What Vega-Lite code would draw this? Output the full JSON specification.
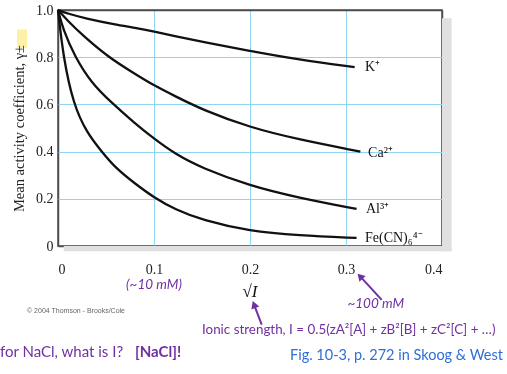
{
  "$schema": "https://vega.github.io/schema/vega-lite/v6.json",
  "width": 384,
  "height": 236,
  "autosize": {"type": "none"},
  "padding": {"left": 58, "top": 10, "right": 65, "bottom": 128},
  "background": "white",
  "config": {
    "view": {"stroke": "#4d4d4d", "strokeWidth": 1.5},
    "axis": {"gridOpacity": 1, "domain": false, "ticks": false}
  },
  "datasets": {
    "curves": [
      {"ion": "K", "s": 0, "g": 1.0},
      {"ion": "K", "s": 0.01, "g": 0.985},
      {"ion": "K", "s": 0.028, "g": 0.965},
      {"ion": "K", "s": 0.06, "g": 0.938},
      {"ion": "K", "s": 0.08, "g": 0.925},
      {"ion": "K", "s": 0.1, "g": 0.909},
      {"ion": "K", "s": 0.122, "g": 0.889},
      {"ion": "K", "s": 0.15, "g": 0.866},
      {"ion": "K", "s": 0.2, "g": 0.826},
      {"ion": "K", "s": 0.25, "g": 0.79},
      {"ion": "K", "s": 0.309, "g": 0.758},
      {"ion": "Ca", "s": 0, "g": 1.0},
      {"ion": "Ca", "s": 0.01, "g": 0.955},
      {"ion": "Ca", "s": 0.025, "g": 0.895},
      {"ion": "Ca", "s": 0.0524, "g": 0.8},
      {"ion": "Ca", "s": 0.08, "g": 0.73},
      {"ion": "Ca", "s": 0.1, "g": 0.68},
      {"ion": "Ca", "s": 0.122, "g": 0.635},
      {"ion": "Ca", "s": 0.15, "g": 0.578},
      {"ion": "Ca", "s": 0.2, "g": 0.502},
      {"ion": "Ca", "s": 0.25, "g": 0.452},
      {"ion": "Ca", "s": 0.315, "g": 0.4},
      {"ion": "Al", "s": 0, "g": 1.0},
      {"ion": "Al", "s": 0.005, "g": 0.92},
      {"ion": "Al", "s": 0.0177, "g": 0.8},
      {"ion": "Al", "s": 0.035, "g": 0.69},
      {"ion": "Al", "s": 0.055, "g": 0.61},
      {"ion": "Al", "s": 0.08, "g": 0.52},
      {"ion": "Al", "s": 0.1, "g": 0.455},
      {"ion": "Al", "s": 0.122, "g": 0.39},
      {"ion": "Al", "s": 0.15, "g": 0.33},
      {"ion": "Al", "s": 0.2, "g": 0.255},
      {"ion": "Al", "s": 0.25, "g": 0.205},
      {"ion": "Al", "s": 0.311, "g": 0.157},
      {"ion": "Fe", "s": 0, "g": 1.0},
      {"ion": "Fe", "s": 0.0055, "g": 0.8},
      {"ion": "Fe", "s": 0.016, "g": 0.6},
      {"ion": "Fe", "s": 0.03, "g": 0.48},
      {"ion": "Fe", "s": 0.0455, "g": 0.4},
      {"ion": "Fe", "s": 0.06, "g": 0.33},
      {"ion": "Fe", "s": 0.08, "g": 0.265},
      {"ion": "Fe", "s": 0.1, "g": 0.205},
      {"ion": "Fe", "s": 0.122, "g": 0.155},
      {"ion": "Fe", "s": 0.15, "g": 0.11},
      {"ion": "Fe", "s": 0.2, "g": 0.062},
      {"ion": "Fe", "s": 0.25, "g": 0.045},
      {"ion": "Fe", "s": 0.311, "g": 0.034}
    ],
    "ionLabels": [
      {"label": "K⁺", "s": 0.3198, "g": 0.757},
      {"label": "Ca²⁺", "s": 0.323, "g": 0.396},
      {"label": "Al³⁺", "s": 0.3208, "g": 0.155},
      {"label": "Fe(CN)₆⁴⁻", "s": 0.3198, "g": 0.036}
    ],
    "shadow": [
      {"s": 0.006, "s2": 0.41, "g": -0.022, "g2": 0},
      {"s": 0.4, "s2": 0.41, "g": -0.022, "g2": 0.965}
    ],
    "highlight": [
      {"s": -0.0427, "s2": -0.0323, "g": 0.838, "g2": 0.918}
    ],
    "purpleItalic": [
      {"text": "(~10 mM)", "s": 0.1, "g": -0.166},
      {"text": "~100 mM", "s": 0.331, "g": -0.244}
    ],
    "ionicText": [
      {"text": "Ionic strength, I = 0.5(zA²[A] + zB²[B] + zC²[C] + …)", "s": 0.15, "g": -0.355}
    ],
    "naclText": [
      {"text": "for NaCl, what is I?", "s": -0.0604, "g": -0.448}
    ],
    "purpleBold": [
      {"text": "[NaCl]!", "s": 0.0802, "g": -0.448}
    ],
    "blueText": [
      {"text": "Fig. 10-3, p. 272 in Skoog & West", "s": 0.2417, "g": -0.465}
    ],
    "copyright": [
      {"text": "© 2004 Thomson - Brooks/Cole", "s": -0.0323, "g": -0.274}
    ],
    "xTitle": [
      {"text": "√I", "s": 0.2, "g": -0.197}
    ],
    "arrows": [
      {"arrow": "a1", "s": 0.3372, "g": -0.228},
      {"arrow": "a1", "s": 0.3155, "g": -0.132},
      {"arrow": "a2", "s": 0.2122, "g": -0.3336},
      {"arrow": "a2", "s": 0.2045, "g": -0.252}
    ],
    "head1": [{"s": 0.3146, "g": -0.1285}],
    "head2": [{"s": 0.2042, "g": -0.2479}]
  },
  "encoding": {
    "x": {
      "field": "s", "type": "quantitative",
      "scale": {"domain": [0, 0.4], "nice": false},
      "axis": {
        "values": [0, 0.1, 0.2, 0.3, 0.4], "title": null, "grid": true,
        "gridColor": {"condition": {"test": "datum.value == 0 || datum.value == 0.4", "value": "#4d4d4d"}, "value": "#8fd5f2"},
        "gridWidth": {"condition": {"test": "datum.value == 0 || datum.value == 0.4", "value": 1.5}, "value": 1},
        "labelExpr": "datum.value == 0 ? '0' : format(datum.value, '.1f')",
        "labelFont": "Liberation Serif", "labelFontSize": 14, "labelColor": "#222222", "labelPadding": 16
      }
    },
    "y": {
      "field": "g", "type": "quantitative",
      "scale": {"domain": [0, 1], "nice": false},
      "axis": {
        "values": [0, 0.2, 0.4, 0.6, 0.8, 1.0], "grid": true,
        "gridColor": {"condition": {"test": "datum.value == 0 || datum.value == 1", "value": "#4d4d4d"}, "value": "#8fd5f2"},
        "gridWidth": {"condition": {"test": "datum.value == 0 || datum.value == 1", "value": 1.5}, "value": 1},
        "title": "Mean activity coefficient, γ±",
        "titleFont": "Liberation Serif", "titleFontSize": 14.5, "titleFontWeight": "normal", "titleColor": "#222222", "titlePadding": 9,
        "labelExpr": "datum.value == 0 ? '0' : format(datum.value, '.1f')",
        "labelFont": "Liberation Serif", "labelFontSize": 14, "labelColor": "#222222", "labelPadding": 5
      }
    }
  },
  "layer": [
    {
      "data": {"name": "shadow"},
      "mark": {"type": "rect", "fill": "#e0e0e0", "clip": false},
      "encoding": {"x2": {"field": "s2"}, "y2": {"field": "g2"}}
    },
    {
      "data": {"name": "curves"},
      "mark": {"type": "line", "color": "#111111", "strokeWidth": 2.3, "interpolate": "basis"},
      "encoding": {"detail": {"field": "ion"}}
    },
    {
      "data": {"name": "highlight"},
      "mark": {"type": "rect", "fill": "#fff0a8", "blend": "multiply", "clip": false},
      "encoding": {"x2": {"field": "s2"}, "y2": {"field": "g2"}}
    },
    {
      "data": {"name": "ionLabels"},
      "mark": {"type": "text", "align": "left", "baseline": "middle", "font": "Liberation Serif", "fontSize": 14, "color": "#111111"},
      "encoding": {"text": {"field": "label"}}
    },
    {
      "data": {"name": "xTitle"},
      "mark": {"type": "text", "align": "center", "baseline": "middle", "font": "Liberation Serif", "fontSize": 17, "fontStyle": "italic", "color": "#111111"},
      "encoding": {"text": {"field": "text"}}
    },
    {
      "data": {"name": "purpleItalic"},
      "mark": {"type": "text", "align": "center", "baseline": "middle", "font": "Lato", "fontSize": 13.5, "fontStyle": "italic", "color": "#7030a0"},
      "encoding": {"text": {"field": "text"}}
    },
    {
      "data": {"name": "ionicText"},
      "mark": {"type": "text", "align": "left", "baseline": "middle", "font": "Lato", "fontSize": 13.4, "color": "#7030a0"},
      "encoding": {"text": {"field": "text"}}
    },
    {
      "data": {"name": "naclText"},
      "mark": {"type": "text", "align": "left", "baseline": "middle", "font": "Lato", "fontSize": 15, "color": "#7030a0"},
      "encoding": {"text": {"field": "text"}}
    },
    {
      "data": {"name": "purpleBold"},
      "mark": {"type": "text", "align": "left", "baseline": "middle", "font": "Lato", "fontSize": 15, "fontWeight": "bold", "color": "#7030a0"},
      "encoding": {"text": {"field": "text"}}
    },
    {
      "data": {"name": "blueText"},
      "mark": {"type": "text", "align": "left", "baseline": "middle", "font": "Lato", "fontSize": 14.5, "color": "#2e6fd8"},
      "encoding": {"text": {"field": "text"}}
    },
    {
      "data": {"name": "copyright"},
      "mark": {"type": "text", "align": "left", "baseline": "middle", "font": "Liberation Sans", "fontSize": 7, "color": "#666666"},
      "encoding": {"text": {"field": "text"}}
    },
    {
      "data": {"name": "arrows"},
      "mark": {"type": "line", "color": "#7030a0", "strokeWidth": 2, "clip": false},
      "encoding": {"detail": {"field": "arrow"}}
    },
    {
      "data": {"name": "head1"},
      "mark": {"type": "point", "shape": "triangle-up", "filled": true, "color": "#7030a0", "size": 70, "angle": -43, "opacity": 1}
    },
    {
      "data": {"name": "head2"},
      "mark": {"type": "point", "shape": "triangle-up", "filled": true, "color": "#7030a0", "size": 70, "angle": -21, "opacity": 1}
    }
  ]
}
